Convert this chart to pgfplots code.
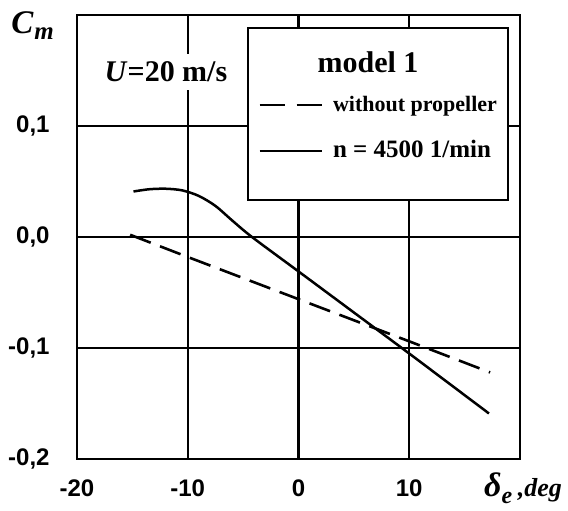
\documentclass[border=0pt]{standalone}
\usepackage{fontspec}
\setmainfont{Liberation Serif}
\newfontfamily\sansb{Liberation Sans}
\usepackage{pgfplots}
\pgfplotsset{compat=1.18}
\begin{document}
\begin{tikzpicture}
\useasboundingbox (-38.5pt,-25.5pt) rectangle (245.5pt,229.5pt);
\begin{axis}[
 at={(0,0)}, anchor=south west,
 scale only axis, width=221.5pt, height=222pt,
 xmin=-20, xmax=20, ymin=-0.2, ymax=0.2,
 xtick={-20,-10,0,10}, xticklabels={-20,-10,0,10},
 ytick={-0.2,-0.1,0,0.1}, yticklabels={{-0,2},{-0,1},{0,0},{0,1}},
 extra x ticks={0}, extra x tick labels={}, extra x tick style={grid style={black,line width=1.6pt}},
 extra y ticks={0}, extra y tick labels={}, extra y tick style={grid style={black,line width=1.3pt}},
 major tick length=0pt,
 grid=major, grid style={black, line width=1pt},
 axis line style={line width=1.4pt},
 tick label style={font=\sansb\bfseries\fontsize{12}{14}\selectfont},
 xticklabel style={anchor=north, inner sep=0pt, yshift=-10pt},
 yticklabel style={anchor=east, inner sep=0pt, xshift=-13.5pt},
 clip=false,
 legend image code/.code={\draw[#1] (0pt,0pt) -- (31pt,0pt);},
 legend style={at={(0.4086,0.825)}, anchor=north west, draw=none, fill=none,
   inner sep=0pt, row sep=11pt, column sep=5pt,
   font=\bfseries,
   nodes={inner sep=0pt, text height=9pt, text depth=3pt}},
 legend cell align=left,
]
\addplot[black, line width=1.3pt, dash pattern=on 11pt off 5pt, forget plot] coordinates {
 (-15.2,0.002) (-10,-0.018) (0,-0.056) (10,-0.094) (17.3,-0.122)};
\addplot[black, line width=1.25pt, smooth, forget plot] coordinates {
 (-14.9,0.041) (-13.5,0.043) (-12,0.0435) (-10.5,0.042) (-9,0.037) (-7.5,0.028)
 (-6,0.015) (-4.2,0.0) (0,-0.031) (5,-0.068) (10,-0.105) (17.2,-0.159)};
\draw[fill=white, line width=1.2pt] (rel axis cs:0.386,0.583) rectangle (rel axis cs:0.973,0.971);
\node[font=\bfseries\fontsize{15}{17}\selectfont] at (rel axis cs:0.657,0.894) {model 1};
\node[fill=white, inner xsep=2pt, inner ysep=4pt, font=\bfseries\fontsize{15}{17}\selectfont] at (rel axis cs:0.2009,0.8716) {\textit{U}=20 m/s};
\node[font=\bfseries\itshape\fontsize{16.5}{18}\selectfont] at (rel axis cs:-0.100,0.976) {C\kern0.5pt\raisebox{-3pt}{\fontsize{12.5}{12}\selectfont m}};
\node[font=\bfseries\itshape\fontsize{17}{19}\selectfont] at (rel axis cs:1.0068,-0.0653) {δ\raisebox{-3.5pt}{\fontsize{12}{12}\selectfont e}\,{\fontsize{13}{13}\selectfont ,deg}};
\addlegendimage{black, line width=1.3pt, dash pattern=on 12.5pt off 6pt}
\addlegendentry{\fontsize{11}{13}\selectfont without propeller}
\addlegendimage{black, line width=1.25pt}
\addlegendentry{\fontsize{12.5}{14}\selectfont n = 4500 1/min}
\end{axis}
\end{tikzpicture}
\end{document}
